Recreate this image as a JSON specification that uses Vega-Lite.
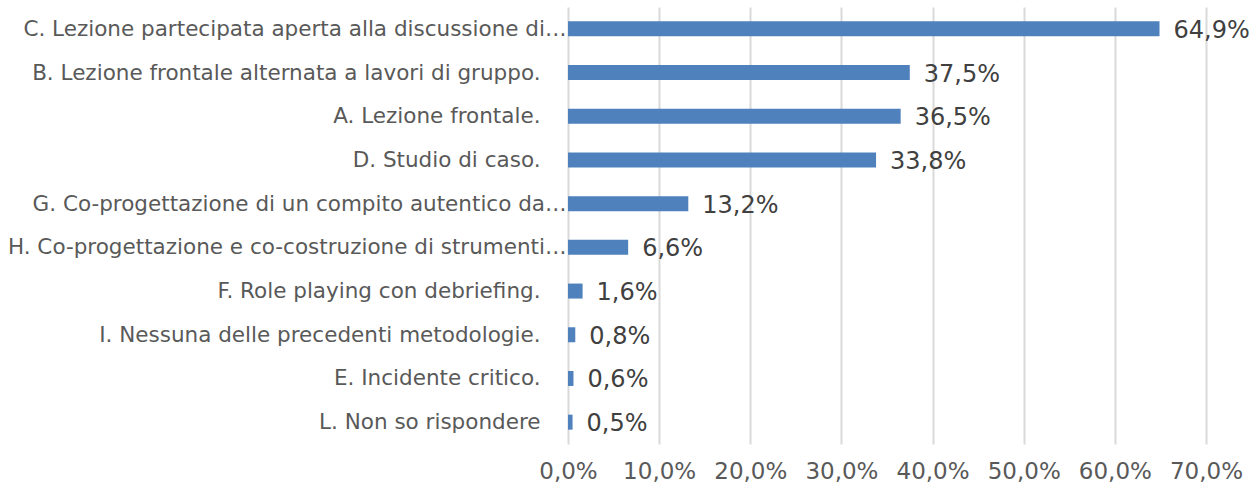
{
  "$schema": "https://vega.github.io/schema/vega-lite/v6.json",
  "width": 638,
  "height": 437,
  "autosize": "none",
  "padding": {"left": 568, "top": 7, "right": 52, "bottom": 42},
  "background": "white",
  "config": {"view": {"stroke": null}, "font": "DejaVu Sans"},
  "data": {
    "values": [
      {"label": "C. Lezione partecipata aperta alla discussione di…", "value": 64.9, "text": "64,9%"},
      {"label": "B. Lezione frontale alternata a lavori di gruppo.", "value": 37.5, "text": "37,5%"},
      {"label": "A. Lezione frontale.", "value": 36.5, "text": "36,5%"},
      {"label": "D. Studio di caso.", "value": 33.8, "text": "33,8%"},
      {"label": "G. Co-progettazione di un compito autentico da…", "value": 13.2, "text": "13,2%"},
      {"label": "H. Co-progettazione e co-costruzione di strumenti…", "value": 6.6, "text": "6,6%"},
      {"label": "F. Role playing con debriefing.", "value": 1.6, "text": "1,6%"},
      {"label": "I. Nessuna delle precedenti metodologie.", "value": 0.8, "text": "0,8%"},
      {"label": "E. Incidente critico.", "value": 0.6, "text": "0,6%"},
      {"label": "L. Non so rispondere", "value": 0.5, "text": "0,5%"}
    ]
  },
  "encoding": {
    "y": {
      "field": "label",
      "type": "nominal",
      "sort": null,
      "scale": {"paddingInner": 0.657, "paddingOuter": 0.328},
      "axis": {
        "title": null,
        "grid": false,
        "domain": false,
        "ticks": false,
        "labelFontSize": 21.5,
        "labelColor": "#595959",
        "labelLimit": 0,
        "labelOffset": 1,
        "labelPadding": {"condition": {"test": "indexof(datum.value, '…') >= 0", "value": 2}, "value": 28}
      }
    },
    "x": {
      "field": "value",
      "type": "quantitative",
      "scale": {"domain": [0, 70], "nice": false},
      "axis": {
        "title": null,
        "values": [0, 10, 20, 30, 40, 50, 60, 70],
        "labelExpr": "replace(format(datum.value, '.1f'), '.', ',') + '%'",
        "labelOverlap": false,
        "labelFlush": false,
        "labelBound": false,
        "grid": true,
        "gridColor": "#D9D9D9",
        "gridWidth": 2,
        "domain": false,
        "ticks": false,
        "labelFontSize": 23,
        "labelColor": "#595959",
        "labelPadding": 16
      }
    }
  },
  "layer": [
    {"mark": {"type": "bar", "color": "#4F81BD"}},
    {
      "mark": {"type": "text", "align": "left", "baseline": "middle", "dx": 14, "dy": 2, "fontSize": 24, "color": "#404040"},
      "encoding": {"text": {"field": "text"}}
    }
  ]
}
